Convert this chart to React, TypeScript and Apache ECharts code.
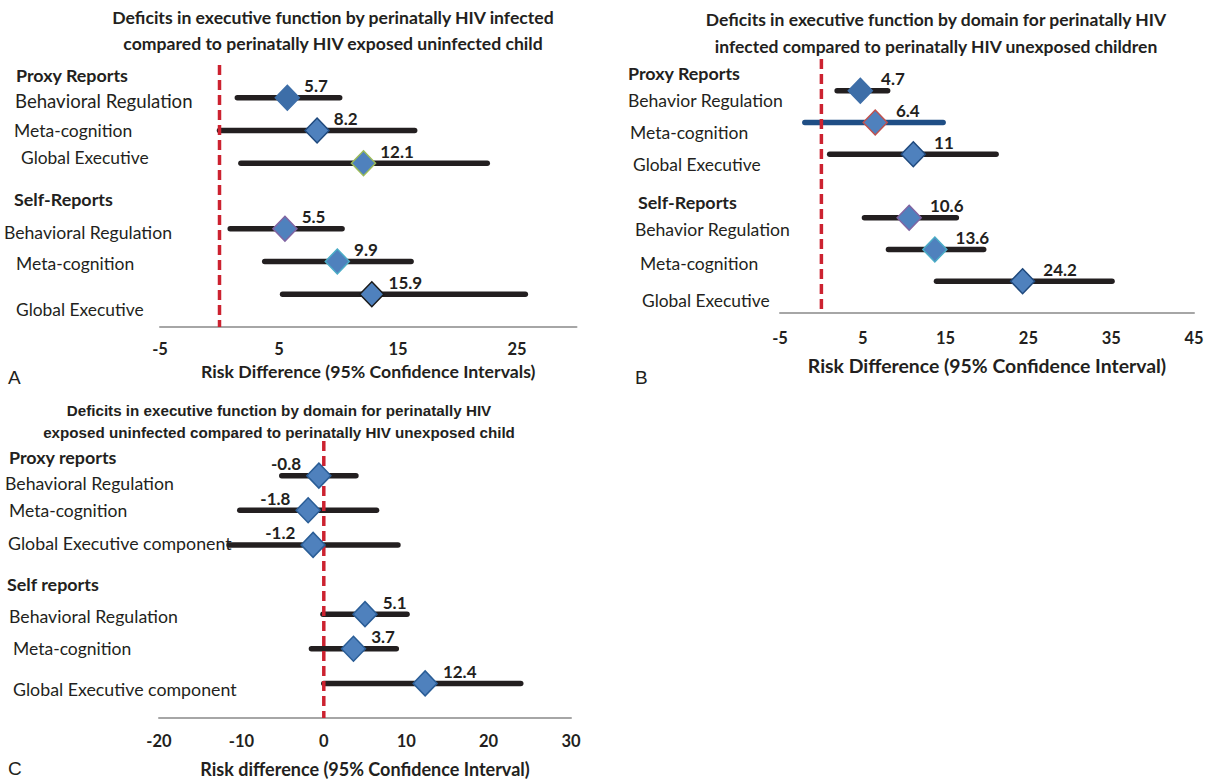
import React, { useEffect, useRef } from "react";
import * as echarts from "echarts";

// ---------- data ----------
const rowPositions = [0, 1, 2, 4, 5, 6];

// Panel A
const aPoint = [5.7, 8.2, 12.1, 5.5, 9.9, 12.8];
const aLabel = ["5.7", "8.2", "12.1", "5.5", "9.9", "15.9"];
const aLow = [1.5, 0.0, 1.8, 0.9, 3.8, 5.3];
const aHigh = [10.1, 16.4, 22.5, 10.3, 16.1, 25.7];
const aTicks = [-5, 5, 15, 25];

// Panel B
const bPoint = [4.7, 6.5, 11.1, 10.6, 13.7, 24.3];
const bLabel = ["4.7", "6.4", "11", "10.6", "13.6", "24.2"];
const bLow = [1.9, -2.0, 1.0, 5.2, 8.1, 13.9];
const bHigh = [8.0, 14.7, 21.1, 16.3, 19.6, 35.1];
const bTicks = [-5, 5, 15, 25, 35, 45];

// Panel C
const cPoint = [-0.6, -1.9, -1.3, 5.0, 3.6, 12.3];
const cLabel = ["-0.8", "-1.8", "-1.2", "5.1", "3.7", "12.4"];
const cLow = [-5.1, -10.2, -11.5, -0.1, -1.5, 0.0];
const cHigh = [3.9, 6.4, 9.0, 10.1, 8.8, 23.9];
const cTicks = [-20, -10, 0, 10, 20, 30];

const refValue = 0;

// ---------- styles ----------
const DARK = "#231f20";
const FILL = "#4f81bd";
const aBorders = ["#3d6ea8", "#1f497d", "#9bbb59", "#8064a2", "#4bacc6", "#1a1a1a"];
const aFills = ["#3d6ea8", FILL, FILL, FILL, FILL, FILL];
const bBorders = ["#3d6ea8", "#c0504d", "#1f497d", "#8064a2", "#4bacc6", "#1f497d"];
const bFills = ["#3d6ea8", FILL, FILL, FILL, FILL, FILL];
const bLineColors = [DARK, "#1f4e85", DARK, DARK, DARK, DARK];
const cBorders = ["#2a5d96", "#2a5d96", "#2a5d96", "#2a5d96", "#2a5d96", "#2a5d96"];
const cFills = [FILL, FILL, FILL, FILL, FILL, FILL];

const FONT = "Lato, 'Open Sans', sans-serif";
const ARIAL = "'Liberation Sans', Arial, sans-serif";

function buildPanel(
  idx: number,
  point: number[],
  labels: string[],
  low: number[],
  high: number[],
  fills: string[],
  borders: string[],
  lineColors: string[],
  labelDist: number
) {
  const ci = {
    type: "custom",
    xAxisIndex: idx,
    yAxisIndex: idx,
    z: 2,
    data: low.map((l, i) => [l, high[i], rowPositions[i], i]),
    encode: { x: [0, 1], y: 2 },
    renderItem: (params: any, api: any) => {
      const p1 = api.coord([api.value(0), api.value(2)]);
      const p2 = api.coord([api.value(1), api.value(2)]);
      const k = api.value(3);
      return {
        type: "line",
        shape: { x1: p1[0], y1: p1[1], x2: p2[0], y2: p2[1] },
        style: { stroke: lineColors[k], lineWidth: 5.5, lineCap: "round" },
      };
    },
  };
  const ref = {
    type: "line",
    xAxisIndex: idx,
    yAxisIndex: idx,
    z: 3,
    symbol: "none",
    data: [
      [refValue, -1],
      [refValue, 7],
    ],
    lineStyle: { color: "#cc2230", width: 3.5, type: [10, 5] },
  };
  const pts = {
    type: "scatter",
    xAxisIndex: idx,
    yAxisIndex: idx,
    z: 4,
    symbol: "diamond",
    symbolSize: [24, 25],
    data: point.map((v, i) => ({
      value: [v, rowPositions[i]],
      itemStyle: { color: fills[i], borderColor: borders[i], borderWidth: 1.5, opacity: 1 },
      label: {
        show: true,
        formatter: labels[i],
        position: v < 0 ? "left" : "right",
        distance: labelDist,
        offset: [0, -12],
        fontFamily: FONT,
        fontWeight: "bold",
        fontSize: 17,
        color: DARK,
      },
    })),
  };
  return [ci, ref, pts];
}

function xAxis(
  idx: number,
  min: number,
  max: number,
  ticks: number[],
  name: string,
  nameSize: number,
  nameGap: number,
  labelMargin: number
) {
  return {
    type: "value",
    gridIndex: idx,
    min,
    max,
    splitLine: { show: false },
    axisTick: { show: false },
    axisLine: { show: true, onZero: false, lineStyle: { color: "#a6a6a6", width: 2 } },
    axisLabel: {
      customValues: ticks,
      color: DARK,
      fontFamily: FONT,
      fontWeight: "bold",
      fontSize: 16.5,
      margin: labelMargin,
    },
    name,
    nameLocation: "middle",
    nameGap,
    nameTextStyle: { color: DARK, fontFamily: FONT, fontWeight: "bold", fontSize: nameSize },
  };
}

function yAxis(idx: number) {
  return { type: "value", gridIndex: idx, min: -1, max: 7, inverse: true, show: false };
}

function txt(x: number, y: number, text: string, size: number, bold = false, family = FONT, align = "left") {
  return {
    type: "text",
    x,
    y,
    style: {
      text,
      fill: DARK,
      font: `${bold ? "bold " : ""}${size}px ${family}`,
      textAlign: align,
      textVerticalAlign: "middle",
    },
  };
}

export default function App() {
  const ref = useRef<HTMLDivElement>(null);
  useEffect(() => {
    if (!ref.current) return;
    const chart = echarts.init(ref.current, null, { renderer: "svg" });
    const option: any = {
      animation: false,
      backgroundColor: "#ffffff",
      grid: [
        { left: 160, top: 65, width: 416.5, height: 262 },
        { left: 780, top: 59, width: 414, height: 254 },
        { left: 159, top: 441, width: 412, height: 282 },
      ],
      xAxis: [
        xAxis(0, -5, 30, aTicks, "Risk Difference (95% Confidence Intervals)", 17.7, 35, 13),
        xAxis(1, -5, 45, bTicks, "Risk Difference (95% Confidence Interval)", 19.4, 43, 16),
        xAxis(2, -20, 30, cTicks, "Risk difference (95% Confidence Interval)", 18, 42, 14),
      ],
      yAxis: [yAxis(0), yAxis(1), yAxis(2)],
      series: [
        ...buildPanel(0, aPoint, aLabel, aLow, aHigh, aFills, aBorders, [DARK, DARK, DARK, DARK, DARK, DARK], 4),
        ...buildPanel(1, bPoint, bLabel, bLow, bHigh, bFills, bBorders, bLineColors, 8),
        ...buildPanel(2, cPoint, cLabel, cLow, cHigh, cFills, cBorders, [DARK, DARK, DARK, DARK, DARK, DARK], 5),
      ],
      graphic: [
        // titles
        txt(333, 17, "Deficits in executive function by perinatally HIV infected", 17.6, true, FONT, "center"),
        txt(333, 43, "compared to perinatally HIV exposed uninfected child", 17.6, true, FONT, "center"),
        txt(936, 19, "Deficits in executive function by domain for perinatally HIV", 17.5, true, FONT, "center"),
        txt(936, 46, "infected compared to perinatally HIV unexposed children", 17.5, true, FONT, "center"),
        txt(279, 410, "Deficits in executive function by domain for perinatally HIV", 15.2, true, ARIAL, "center"),
        txt(279, 432, "exposed uninfected compared to perinatally HIV unexposed child", 15.2, true, ARIAL, "center"),
        // panel A labels
        txt(16, 75, "Proxy Reports", 17.9, true),
        txt(15, 101, "Behavioral Regulation", 18.6),
        txt(14, 130, "Meta-cognition", 17.5),
        txt(21, 157, "Global Executive", 17.4),
        txt(14, 199, "Self-Reports", 17.9, true),
        txt(4, 232, "Behavioral Regulation", 17.6),
        txt(16, 263, "Meta-cognition", 17.5),
        txt(16, 309, "Global Executive", 17.4),
        // panel B labels
        txt(628, 73, "Proxy Reports", 17.9, true),
        txt(628, 100, "Behavior Regulation", 17.6),
        txt(630, 132, "Meta-cognition", 17.5),
        txt(633, 164, "Global Executive", 17.4),
        txt(638, 202, "Self-Reports", 17.9, true),
        txt(635, 229, "Behavior Regulation", 17.6),
        txt(640, 263, "Meta-cognition", 17.5),
        txt(642, 300, "Global Executive", 17.4),
        // panel C labels
        txt(9, 457, "Proxy reports", 17.9, true),
        txt(5, 483, "Behavioral Regulation", 17.7),
        txt(9, 510, "Meta-cognition", 17.5),
        txt(8, 543, "Global Executive component", 17.8),
        txt(7, 584, "Self reports", 17.9, true),
        txt(9, 616, "Behavioral Regulation", 17.7),
        txt(13, 648, "Meta-cognition", 17.5),
        txt(13, 689, "Global Executive component", 17.8),
        // panel letters
        txt(8, 377, "A", 19, false, ARIAL),
        txt(635, 377, "B", 19, false, ARIAL),
        txt(8, 768, "C", 19, false, ARIAL),
      ],
    };
    chart.setOption(option);
    return () => chart.dispose();
  }, []);
  return (
    <div
      ref={ref}
      style={{ position: "absolute", left: 0, top: 0, width: 1215, height: 779 }}
    />
  );
}
